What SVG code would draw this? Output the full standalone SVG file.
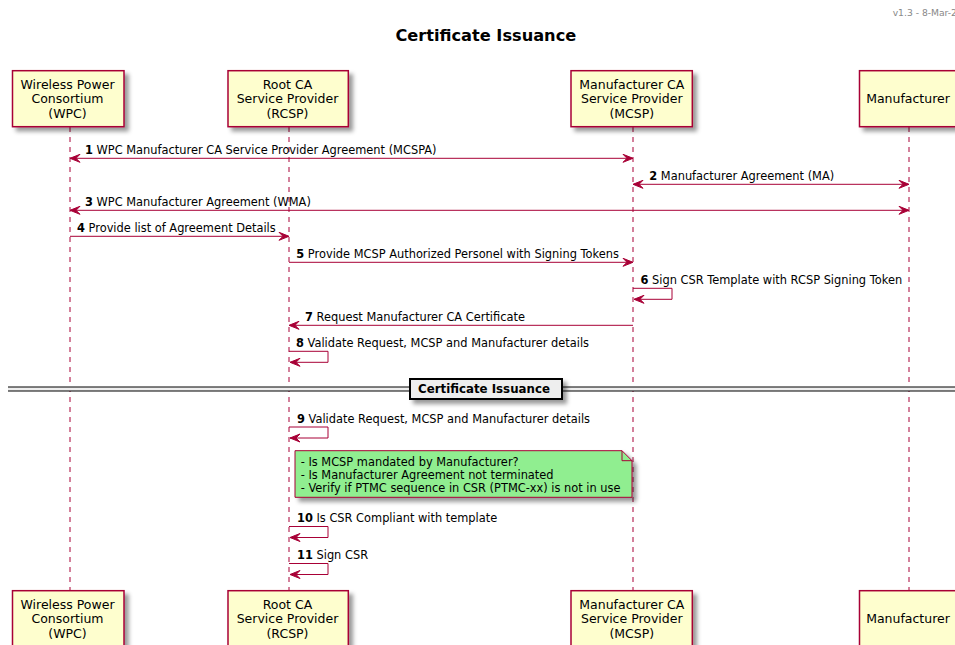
<svg xmlns="http://www.w3.org/2000/svg" width="955" height="645" viewBox="0 0 955 645">
<defs>
<filter id="sh" x="-1" y="-1" width="300%" height="300%">
<feGaussianBlur result="blurOut" stdDeviation="2.0"/>
<feColorMatrix in="blurOut" result="blurOut2" type="matrix" values="0 0 0 0 0 0 0 0 0 0 0 0 0 0 0 0 0 0 .4 0"/>
<feOffset dx="4.0" dy="4.0" in="blurOut2" result="blurOut3"/>
<feBlend in="SourceGraphic" in2="blurOut3" mode="normal"/>
</filter>
<style>
.box{fill:#FEFECE;stroke:#A80036;stroke-width:1.5}
.life{stroke:#A80036;stroke-width:1;stroke-dasharray:5,5;fill:none}
.msg{stroke:#A80036;stroke-width:1;fill:none}
.head{fill:#A80036;stroke:#A80036;stroke-width:1}
text{font-family:"DejaVu Sans",sans-serif;fill:#000000}
.pt{font-size:12.5px;text-anchor:middle}
.m{font-size:11.4px}
.b{font-weight:bold}
</style>
</defs>
<rect x="0" y="0" width="955" height="645" fill="#FFFFFF"/>
<text x="892.7" y="15.7" style="font-size:9.2px;fill:#888888">v1.3 - 8-Mar-2</text>
<text x="485.8" y="40.7" class="b" style="font-size:16.2px" text-anchor="middle">Certificate Issuance</text>

<g id="lifelines">
<line class="life" x1="70" y1="127" x2="70" y2="590.7"/>
<line class="life" x1="289" y1="127" x2="289" y2="590.7"/>
<line class="life" x1="633" y1="127" x2="633" y2="590.7"/>
<line class="life" x1="909" y1="127" x2="909" y2="590.7"/>
</g>

<g id="wpc">
<rect class="box" filter="url(#sh)" x="12.5" y="70.7" width="111.5" height="56"/>
<text class="pt" x="67.5" y="88.8">Wireless Power</text>
<text class="pt" x="67.5" y="103.3">Consortium</text>
<text class="pt" x="67.5" y="117.8">(WPC)</text>
</g>
<g id="rcsp">
<rect class="box" filter="url(#sh)" x="228" y="70.7" width="120.3" height="56"/>
<text class="pt" x="287.5" y="88.8">Root CA</text>
<text class="pt" x="287.5" y="103.3">Service Provider</text>
<text class="pt" x="287.5" y="117.8">(RCSP)</text>
</g>
<g id="mcsp">
<rect class="box" filter="url(#sh)" x="571" y="70.7" width="121.3" height="56"/>
<text class="pt" x="631.8" y="88.8">Manufacturer CA</text>
<text class="pt" x="631.8" y="103.3">Service Provider</text>
<text class="pt" x="631.8" y="117.8">(MCSP)</text>
</g>
<g id="manufacturer">
<rect class="box" filter="url(#sh)" x="859.5" y="70.7" width="98" height="56"/>
<text class="pt" x="908" y="103.3">Manufacturer</text>
</g>

<g id="wpc-bottom">
<rect class="box" filter="url(#sh)" x="12.5" y="590.7" width="111.5" height="56"/>
<text class="pt" x="67.5" y="608.8">Wireless Power</text>
<text class="pt" x="67.5" y="623.3">Consortium</text>
<text class="pt" x="67.5" y="637.8">(WPC)</text>
</g>
<g id="rcsp-bottom">
<rect class="box" filter="url(#sh)" x="228" y="590.7" width="120.3" height="56"/>
<text class="pt" x="287.5" y="608.8">Root CA</text>
<text class="pt" x="287.5" y="623.3">Service Provider</text>
<text class="pt" x="287.5" y="637.8">(RCSP)</text>
</g>
<g id="mcsp-bottom">
<rect class="box" filter="url(#sh)" x="571" y="590.7" width="121.3" height="56"/>
<text class="pt" x="631.8" y="608.8">Manufacturer CA</text>
<text class="pt" x="631.8" y="623.3">Service Provider</text>
<text class="pt" x="631.8" y="637.8">(MCSP)</text>
</g>
<g id="manufacturer-bottom">
<rect class="box" filter="url(#sh)" x="859.5" y="590.7" width="98" height="56"/>
<text class="pt" x="908" y="623.3">Manufacturer</text>
</g>

<g id="connectors">
<line class="msg" x1="71" y1="158.3" x2="632" y2="158.3"/>
<polygon class="head" points="80,154.3 70,158.3 80,162.3 76,158.3"/>
<polygon class="head" points="623,154.3 633,158.3 623,162.3 627,158.3"/>
<line class="msg" x1="634" y1="184.3" x2="908" y2="184.3"/>
<polygon class="head" points="643,180.3 633,184.3 643,188.3 639,184.3"/>
<polygon class="head" points="899,180.3 909,184.3 899,188.3 903,184.3"/>
<line class="msg" x1="71" y1="210.3" x2="908" y2="210.3"/>
<polygon class="head" points="80,206.3 70,210.3 80,214.3 76,210.3"/>
<polygon class="head" points="899,206.3 909,210.3 899,214.3 903,210.3"/>
<line class="msg" x1="70" y1="236.3" x2="288" y2="236.3"/>
<polygon class="head" points="279,232.3 289,236.3 279,240.3 283,236.3"/>
<line class="msg" x1="289" y1="262.3" x2="632" y2="262.3"/>
<polygon class="head" points="623,258.3 633,262.3 623,266.3 627,262.3"/>
<polyline class="msg" points="633,288.3 672,288.3 672,299.3 634,299.3"/>
<polygon class="head" points="644,295.3 634,299.3 644,303.3 640,299.3"/>
<line class="msg" x1="290" y1="325.3" x2="633" y2="325.3"/>
<polygon class="head" points="299,321.3 289,325.3 299,329.3 295,325.3"/>
<polyline class="msg" points="289,351.3 328,351.3 328,362.3 290,362.3"/>
<polygon class="head" points="300,358.3 290,362.3 300,366.3 296,362.3"/>
<polyline class="msg" points="289,427 328,427 328,438 290,438"/>
<polygon class="head" points="300,434 290,438 300,442 296,438"/>
<polyline class="msg" points="289,526.5 328,526.5 328,537.5 290,537.5"/>
<polygon class="head" points="300,533.5 290,537.5 300,541.5 296,537.5"/>
<polyline class="msg" points="289,563.5 328,563.5 328,574.5 290,574.5"/>
<polygon class="head" points="300,570.5 290,574.5 300,578.5 296,574.5"/>
</g>

<g id="labels">
<text class="m" x="85" y="154"><tspan class="b">1</tspan> WPC Manufacturer CA Service Provider Agreement (MCSPA)</text>
<text class="m" x="649.3" y="180"><tspan class="b">2</tspan> Manufacturer Agreement (MA)</text>
<text class="m" x="85" y="206"><tspan class="b">3</tspan> WPC Manufacturer Agreement (WMA)</text>
<text class="m" x="77" y="232"><tspan class="b">4</tspan> Provide list of Agreement Details</text>
<text class="m" x="296.3" y="258"><tspan class="b">5</tspan> Provide MCSP Authorized Personel with Signing Tokens</text>
<text class="m" x="640.5" y="284.3"><tspan class="b">6</tspan> Sign CSR Template with RCSP Signing Token</text>
<text class="m" x="305" y="321"><tspan class="b">7</tspan> Request Manufacturer CA Certificate</text>
<text class="m" x="296" y="347.3"><tspan class="b">8</tspan> Validate Request, MCSP and Manufacturer details</text>
<text class="m" x="297" y="423"><tspan class="b">9</tspan> Validate Request, MCSP and Manufacturer details</text>
<text class="m" x="297" y="522"><tspan class="b">10</tspan> Is CSR Compliant with template</text>
<text class="m" x="297" y="559"><tspan class="b">11</tspan> Sign CSR</text>
</g>

<g id="separator">
<rect x="8" y="387" width="947" height="4" fill="#EEEEEE"/>
<line x1="8" y1="387" x2="955" y2="387" stroke="#000000" stroke-width="1"/>
<line x1="8" y1="391" x2="955" y2="391" stroke="#000000" stroke-width="1"/>
<rect x="410" y="379" width="152" height="20" fill="#EEEEEE" stroke="#000000" stroke-width="2" filter="url(#sh)"/>
<text x="484" y="393.3" class="b" style="font-size:11.8px" text-anchor="middle">Certificate Issuance</text>
</g>

<g id="note">
<polygon points="295,450.7 622,450.7 632,460.7 632,497.3 295,497.3" fill="#90EE90" stroke="#A80036" stroke-width="1" filter="url(#sh)"/>
<polyline points="622,450.7 622,460.7 632,460.7" fill="none" stroke="#A80036" stroke-width="1"/>
<text class="m" x="300.7" y="466.3">- Is MCSP mandated by Manufacturer?</text>
<text class="m" x="300.7" y="479">- Is Manufacturer Agreement not terminated</text>
<text class="m" x="300.7" y="491.7">- Verify if PTMC sequence in CSR (PTMC-xx) is not in use</text>
</g>
</svg>
